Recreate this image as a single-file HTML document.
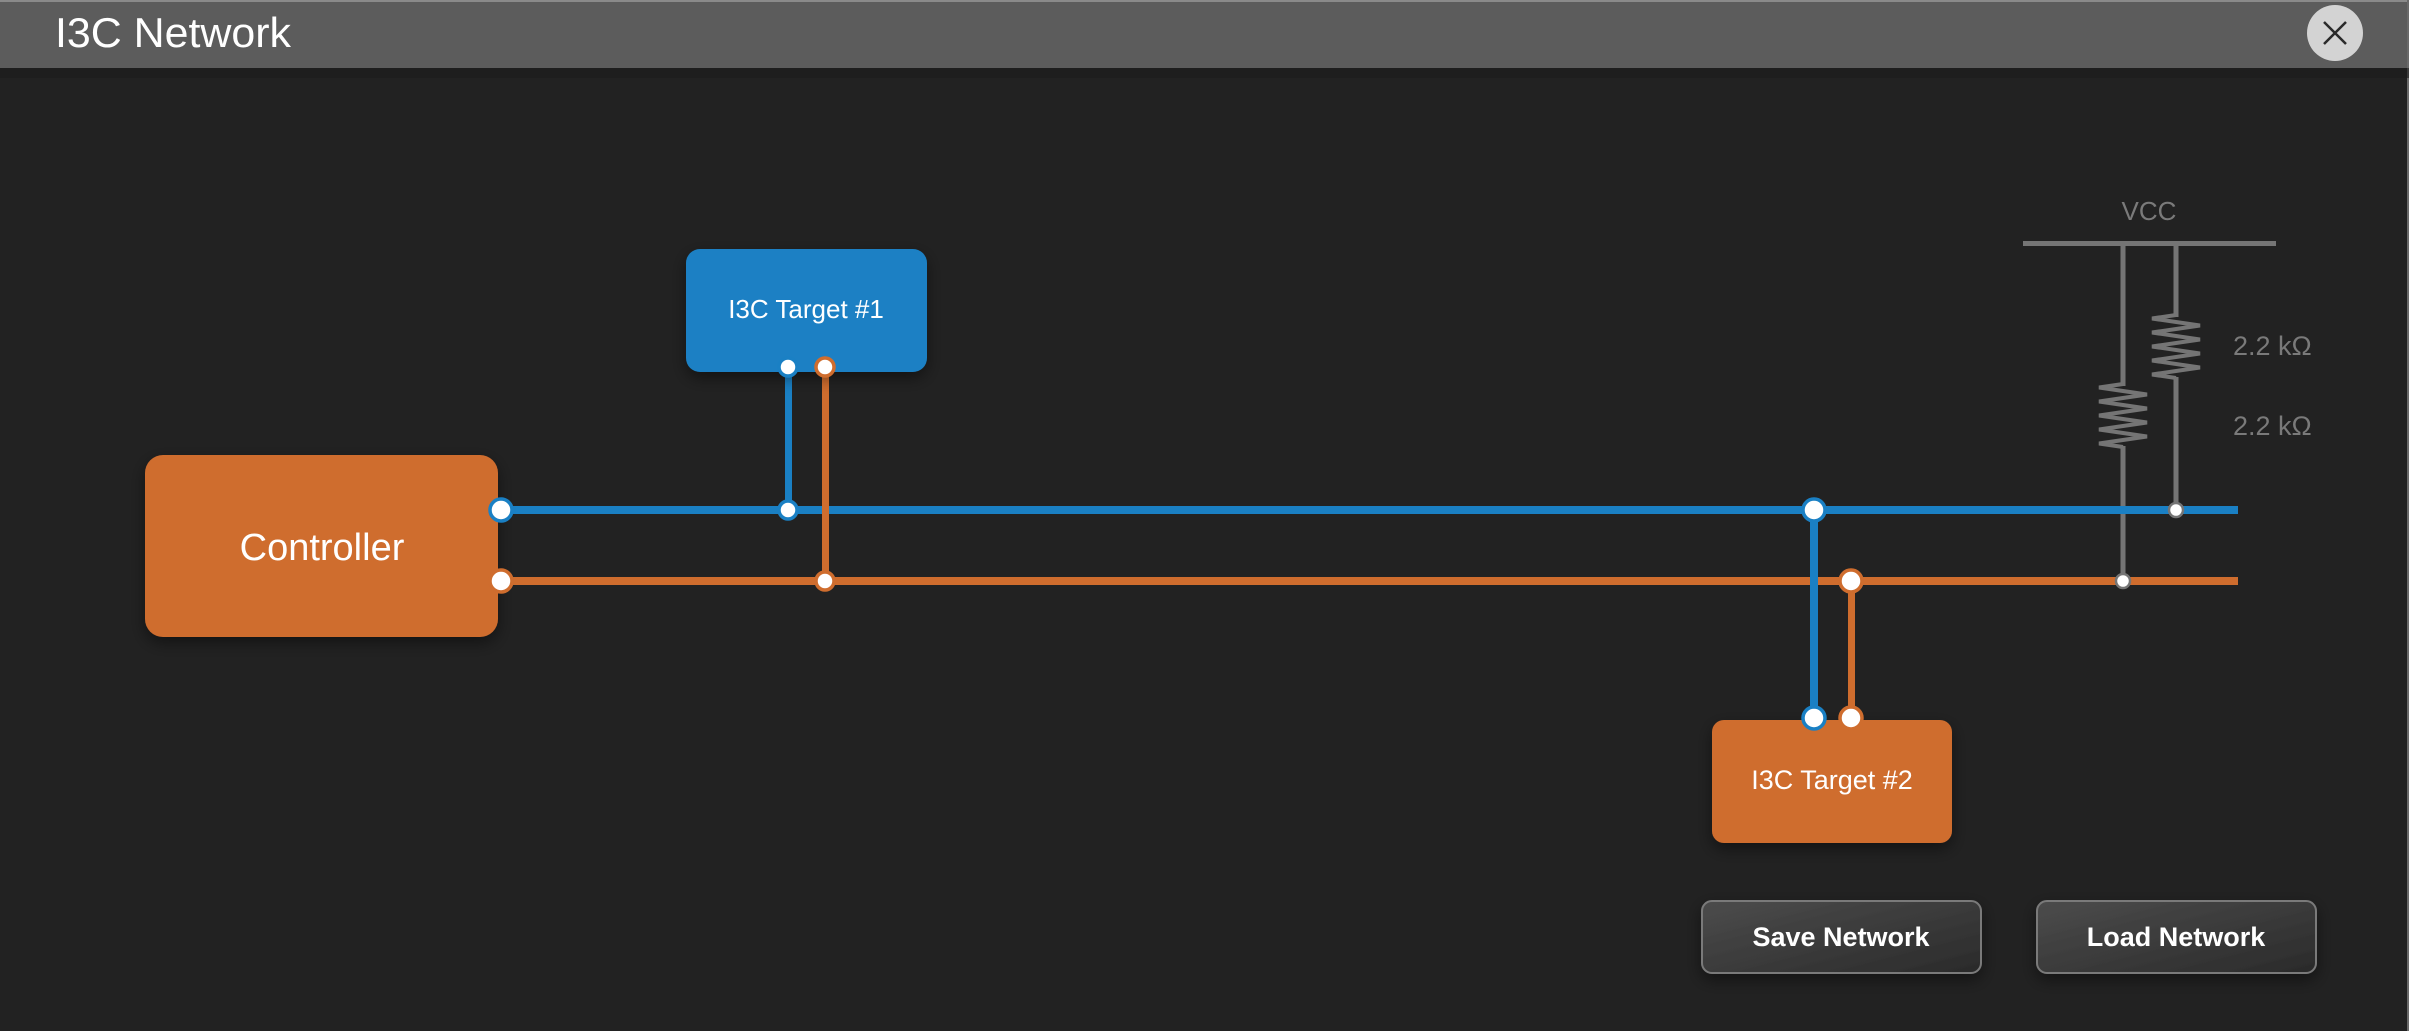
<!DOCTYPE html>
<html><head><meta charset="utf-8"><style>
html,body{margin:0;padding:0;background:#222;}
body{width:2409px;height:1031px;overflow:hidden;position:relative;font-family:"Liberation Sans",sans-serif;}
</style></head><body>
<svg width="2409" height="1031" viewBox="0 0 2409 1031" xmlns="http://www.w3.org/2000/svg" style="position:absolute;left:0;top:0">
<defs>
<filter id="sh" x="-20%" y="-20%" width="140%" height="150%"><feDropShadow dx="0" dy="6" stdDeviation="8" flood-color="#000" flood-opacity="0.45"/></filter>
<linearGradient id="bg" x1="0" y1="0" x2="1" y2="1"><stop offset="0" stop-color="#4c4c4c"/><stop offset="1" stop-color="#2a2a2a"/></linearGradient>
</defs>
<rect x="0" y="0" width="2409" height="1031" fill="#222"/>
<rect x="0" y="0" width="2409" height="68" fill="#5c5c5c"/>
<rect x="0" y="0" width="2409" height="2" fill="#8a8a8a"/>
<rect x="2407" y="0" width="2" height="1031" fill="#6a6a6a"/>
<rect x="0" y="68" width="2409" height="10" fill="#1d1d1d" opacity="0.6"/>
<text x="55" y="47" font-size="42" fill="#fff" font-family="Liberation Sans, sans-serif" textLength="236" lengthAdjust="spacingAndGlyphs">I3C Network</text>
<circle cx="2335" cy="33" r="28" fill="#d3d3d3"/>
<path d="M2324 22 L2346 44 M2346 22 L2324 44" stroke="#2a2a2a" stroke-width="2.5"/>

<!-- VCC -->
<text x="2149" y="220" font-size="26" fill="#7a7a7a" text-anchor="middle">VCC</text>
<rect x="2023" y="241" width="253" height="5" fill="#757575"/>
<g stroke="#757575" stroke-width="5" fill="none">
<path d="M2123 244 V386 M2123 446 V581"/>
<path d="M2176 244 V317 M2176 377 V510"/>
<path d="M2123 384 l-24 3.5 l48 7 l-48 7 l48 7 l-48 7 l48 7 l-48 7 l48 7 l-48 7 l24 3.5" stroke-width="4" stroke-linejoin="miter"/>
<path d="M2176 315 l-24 3.5 l48 7 l-48 7 l48 7 l-48 7 l48 7 l-48 7 l48 7 l-48 7 l24 3.5" stroke-width="4" stroke-linejoin="miter"/>
</g>
<text x="2233" y="355" font-size="27" fill="#7a7a7a">2.2 kΩ</text>
<text x="2233" y="435" font-size="27" fill="#7a7a7a">2.2 kΩ</text>

<!-- bus lines -->
<rect x="498" y="506" width="1740" height="8" fill="#1a80c4"/>
<rect x="498" y="577" width="1740" height="8" fill="#cf6d2e"/>
<rect x="785" y="367" width="7" height="143" fill="#1a80c4"/>
<rect x="822" y="367" width="7" height="214" fill="#cf6d2e"/>
<rect x="1810" y="510" width="8" height="208" fill="#1a80c4"/>
<rect x="1848" y="581" width="7" height="137" fill="#cf6d2e"/>

<!-- boxes -->
<rect x="145" y="455" width="353" height="182" rx="18" fill="#cf6d2e" filter="url(#sh)"/>
<text x="322" y="560" font-size="38" fill="#fff" text-anchor="middle">Controller</text>
<rect x="686" y="249" width="241" height="123" rx="14" fill="#1a80c4" filter="url(#sh)"/>
<text x="806" y="318" font-size="26" fill="#fff" text-anchor="middle">I3C Target #1</text>
<rect x="1712" y="720" width="240" height="123" rx="12" fill="#cf6d2e" filter="url(#sh)"/>
<text x="1832" y="789" font-size="27" fill="#fff" text-anchor="middle">I3C Target #2</text>

<!-- ports -->
<g fill="#fff" stroke-width="3.5">
<circle cx="501" cy="510" r="11" stroke="#1a80c4"/>
<circle cx="501" cy="581" r="11" stroke="#cf6d2e"/>
<circle cx="788" cy="367" r="9" stroke="#1a80c4"/>
<circle cx="825" cy="367" r="9" stroke="#cf6d2e"/>
<circle cx="788" cy="510" r="9" stroke="#1a80c4"/>
<circle cx="825" cy="581" r="9" stroke="#cf6d2e"/>
<circle cx="1814" cy="510" r="11" stroke="#1a80c4"/>
<circle cx="1851" cy="581" r="11" stroke="#cf6d2e"/>
<circle cx="1814" cy="718" r="11" stroke="#1a80c4"/>
<circle cx="1851" cy="718" r="11" stroke="#cf6d2e"/>
<circle cx="2176" cy="510" r="7" stroke="#757575" stroke-width="2.5"/>
<circle cx="2123" cy="581" r="7" stroke="#757575" stroke-width="2.5"/>
</g>

<!-- buttons -->
<rect x="1702" y="901" width="279" height="72" rx="10" fill="url(#bg)" stroke="#7a7a7a" stroke-width="2" filter="url(#sh)"/>
<text x="1841" y="946" font-size="27" font-weight="bold" fill="#fff" text-anchor="middle">Save Network</text>
<rect x="2037" y="901" width="279" height="72" rx="10" fill="url(#bg)" stroke="#7a7a7a" stroke-width="2" filter="url(#sh)"/>
<text x="2176" y="946" font-size="27" font-weight="bold" fill="#fff" text-anchor="middle">Load Network</text>
</svg>
</body></html>
